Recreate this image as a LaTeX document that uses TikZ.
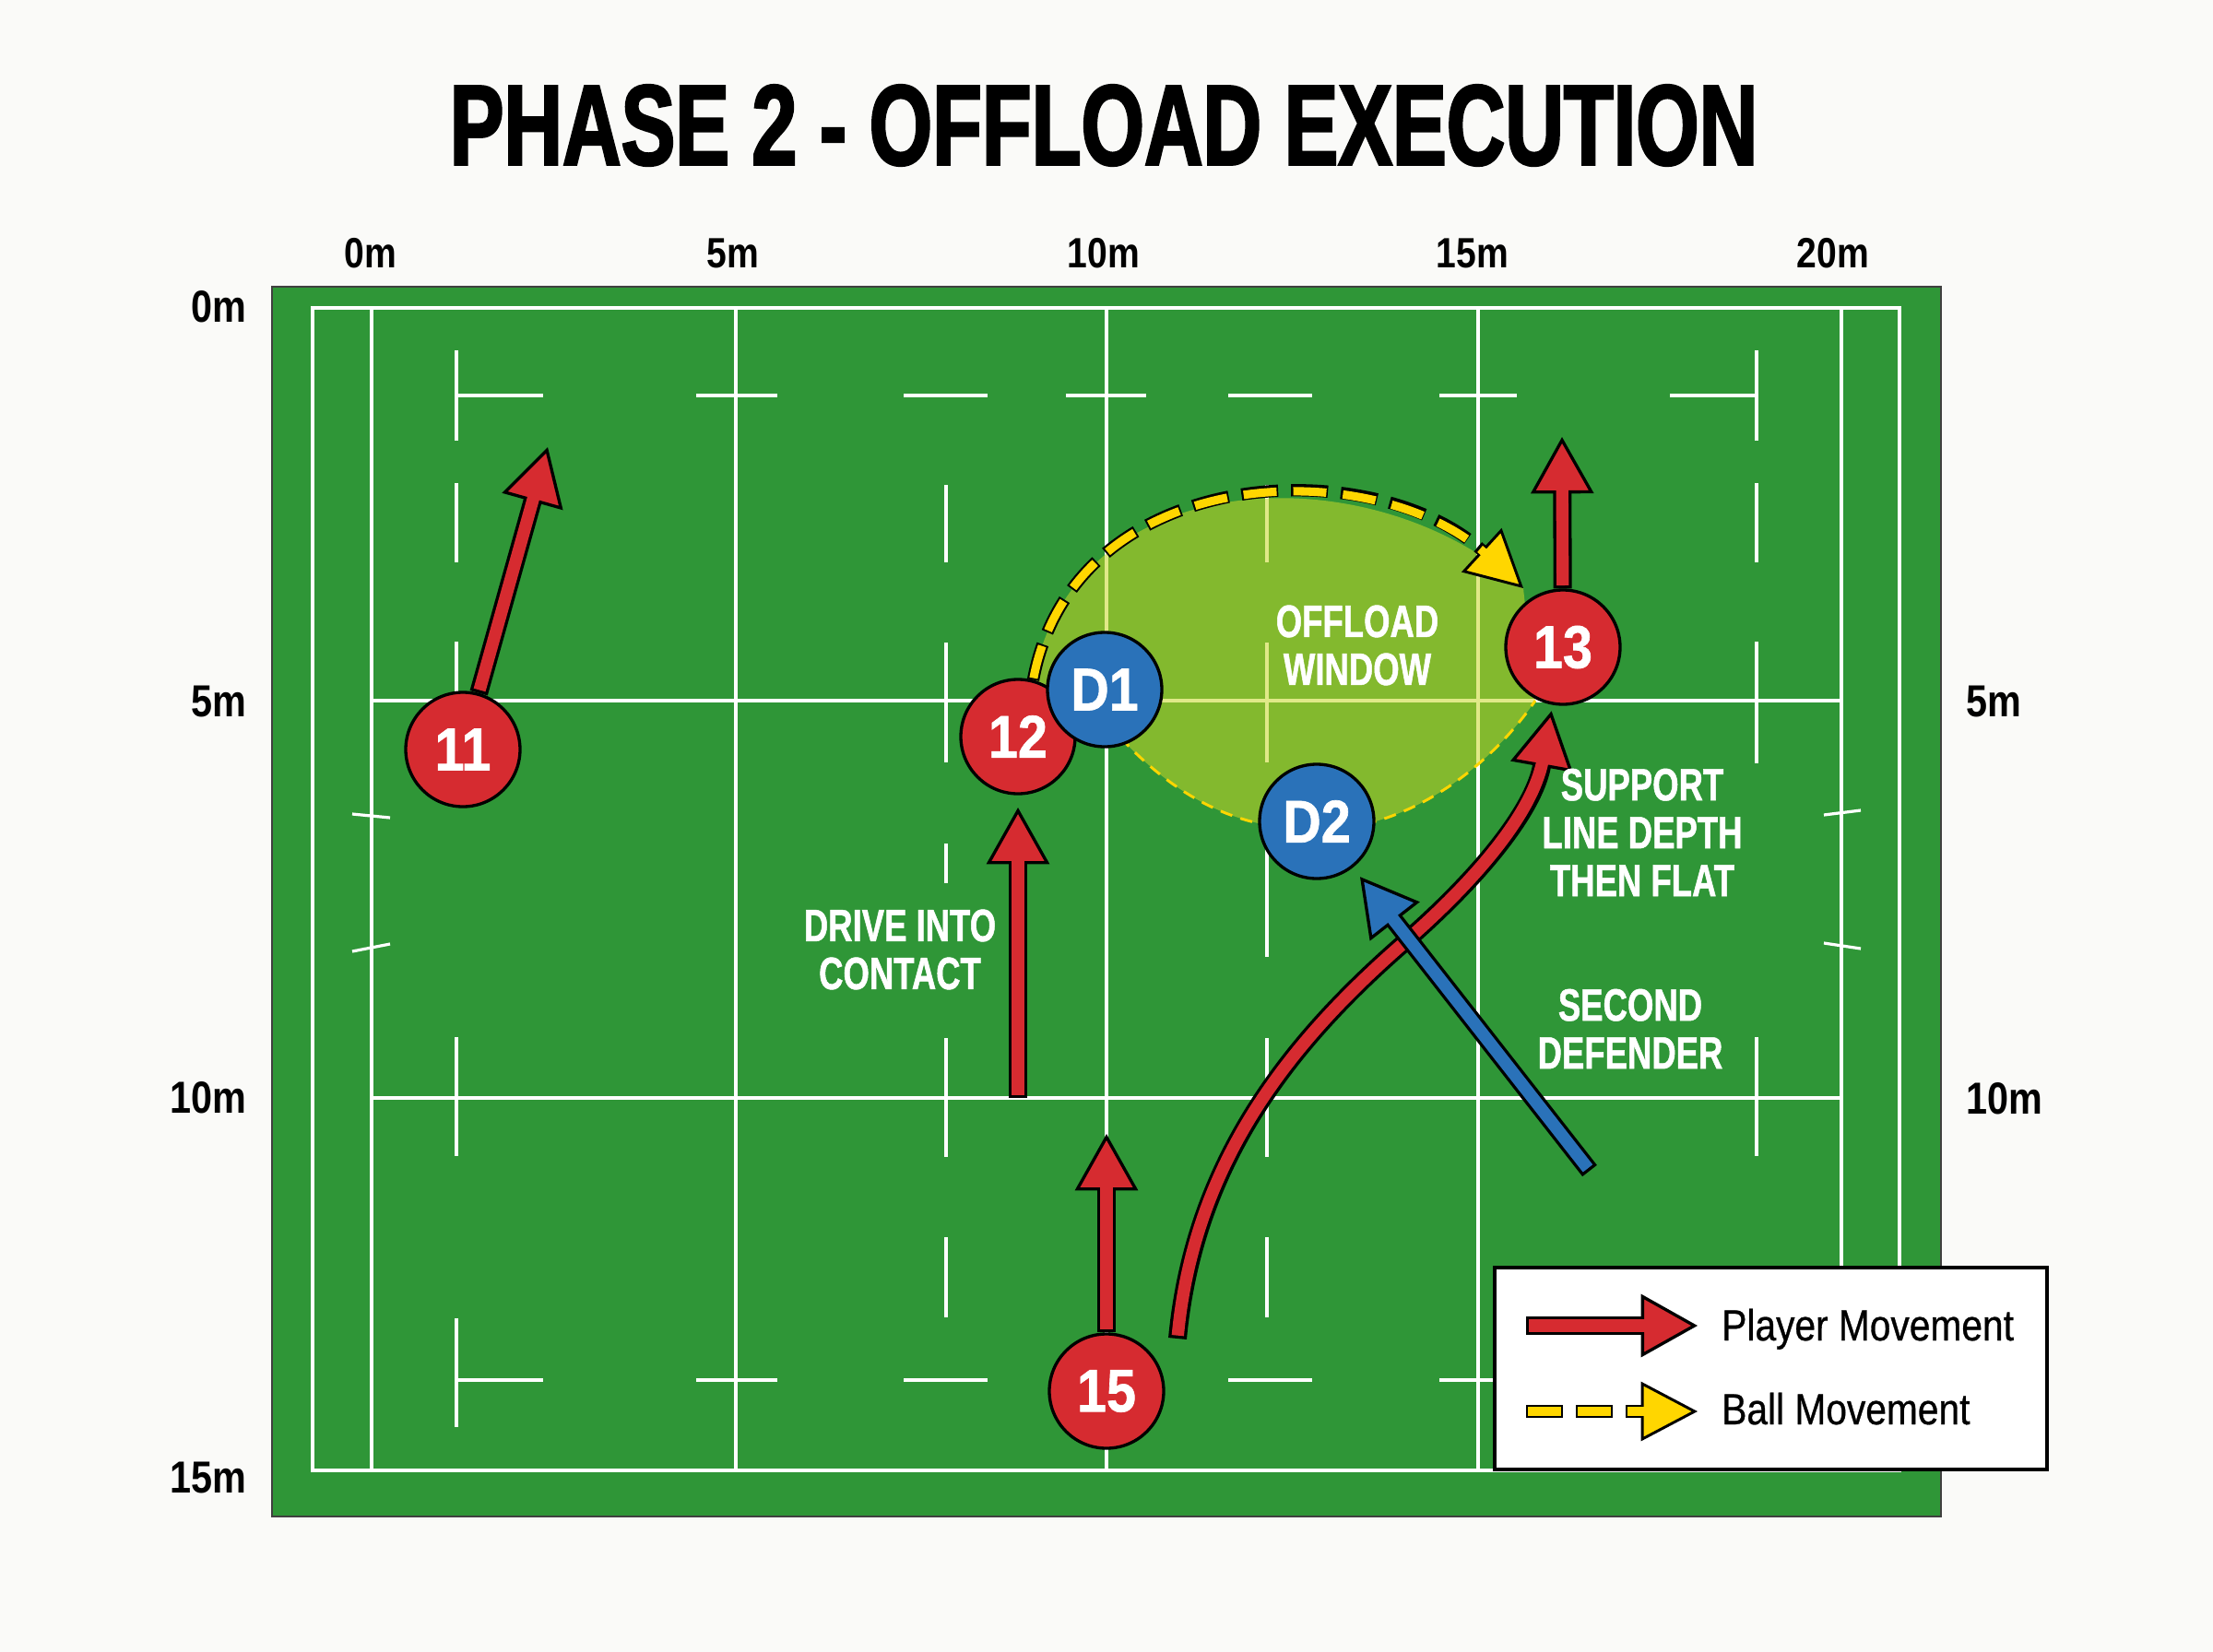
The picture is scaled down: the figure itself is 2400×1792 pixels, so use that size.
\documentclass[tikz,border=0pt]{standalone}
\usepackage{fontspec}
\setmainfont{Liberation Sans}
\newfontfamily\titlefont[FakeStretch=0.71,FakeBold=2]{Liberation Sans}
\newfontfamily\condfont[FakeStretch=0.74,FakeBold=1]{Liberation Sans}
\newfontfamily\numfont[FakeStretch=0.88,FakeBold=1]{Liberation Sans}
\newfontfamily\metrefont[FakeStretch=0.85]{Liberation Sans}
\newfontfamily\keyfont[FakeStretch=0.86,FakeBold=0.6]{Liberation Sans}
\usetikzlibrary{arrows.meta,positioning,backgrounds}
\definecolor{pitch}{HTML}{2F9637}
\definecolor{playerred}{HTML}{D62B30}
\definecolor{defblue}{HTML}{2A72B9}
\definecolor{ballyellow}{HTML}{FFD600}
\definecolor{windowfill}{HTML}{C8D728}
\definecolor{paper}{HTML}{FAFAF8}

\tikzset{
  fieldline/.style={white, line width=2.8pt},
  markline/.style={white, line width=2.4pt},
  player/.style={circle, minimum size=93pt, inner sep=0pt, draw=black, line width=2.5pt,
    fill=playerred, text=white, font=\numfont\bfseries\fontsize{49}{49}\selectfont},
  defender/.style={player, fill=defblue},
  move/.style 2 args={draw=black, line width=15pt,
    -{Triangle[length=46pt,width=51pt,fill=#1,line width'=2.5pt]}, shorten >=#2,
    postaction={draw=#1, line width=10pt, -, shorten >=#2+40pt, shorten <=2.5pt}},
  pmove/.style={move={playerred}{#1}}, pmove/.default=0pt,
  dmove/.style={move={defblue}{#1}}, dmove/.default=0pt,
  ballpass/.style={draw=black, line width=10pt, dash pattern=on 30pt off 10.5pt,
    -{Triangle[length=46pt,width=48pt,fill=ballyellow,line width'=2.2pt]},
    postaction={draw=ballyellow, line width=6.8pt, dash pattern=on 27pt off 13.5pt,
      dash phase=39pt, -, shorten >=40pt}},
  note/.style={text=white, align=center, inner sep=0pt, font=\condfont\bfseries\fontsize{37}{39}\selectfont},
  topmetre/.style={inner sep=0pt, font=\metrefont\bfseries\fontsize{34.5}{34.5}\selectfont},
  sidemetre/.style={inner sep=0pt, font=\metrefont\bfseries\fontsize{36.5}{36.5}\selectfont},
  legendbox/.style={draw=black, line width=3pt, fill=white, minimum width=449pt, minimum height=164pt, inner sep=0pt},
  keytext/.style={inner sep=0pt, font=\keyfont\fontsize{35.5}{35.5}\selectfont}
}

\begin{document}
\begin{tikzpicture}[x=0.75pt,y=0.75pt,yscale=-1,xscale=1]
  \useasboundingbox (0,0) rectangle (2400,1792);

  \begin{scope}[on background layer]
    \fill[paper] (0,0) rectangle (2400,1792);
    % pitch
    \draw[fill=pitch, draw=black!75, line width=1.2pt] (295,311) rectangle (2105,1645);
    \draw[fieldline] (339,334) rectangle (2060,1595);
    \foreach \x in {403,798,1200,1603,1997}
      \draw[fieldline] (\x,334) -- (\x,1595);
    \foreach \y in {760,1191}
      \draw[fieldline] (403,\y) -- (1997,\y);
    % dashed lines
    \foreach \x in {495,1905}
      \foreach \a/\b in {380/478,524/610,696/828,1125/1254,1430/1548}
        \draw[markline] (\x,\a) -- (\x,\b);
    \foreach \x in {1026,1374}
      \foreach \a/\b in {526/610,697/827,1126/1255,1342/1429}
        \draw[markline] (\x,\a) -- (\x,\b);
    \draw[markline] (1026,915) -- (1026,958);
    \draw[markline] (1374,870) -- (1374,1038);
    \foreach \y in {429,1497}
      \foreach \a/\b in {494/589,755/843,980/1071,1156/1243,1332/1423,1561/1645,1811/1905}
        \draw[markline] (\a,\y) -- (\b,\y);
    % ticks on the try lines
    \draw[markline] (382,883) -- (423,887);
    \draw[markline] (382,1032) -- (423,1024);
    \draw[markline] (1978,884) -- (2018,879);
    \draw[markline] (1978,1023) -- (2018,1029);
  \end{scope}

  % title and scale
  \node[font=\titlefont\bfseries\fontsize{93}{93}\selectfont, inner sep=0pt] (title) at (1197,136) {PHASE 2 - OFFLOAD EXECUTION};
  \node[topmetre] (c0) at (402,275) {0m};
  \node[topmetre] (c5) at (795,275) {5m};
  \node[topmetre] (c10) at (1197,275) {10m};
  \node[topmetre] (c15) at (1597,275) {15m};
  \node[topmetre] (c20) at (1988,275) {20m};
  \node[sidemetre, anchor=east] (r0) at (268,333) {0m};
  \node[sidemetre, anchor=east] (r5) at (268,761) {5m};
  \node[sidemetre, anchor=east] (r10) at (268,1191) {10m};
  \node[sidemetre, anchor=east] (r15) at (268,1603) {15m};
  \node[sidemetre, anchor=west] (q5) at (2132,761) {5m};
  \node[sidemetre, anchor=west] (q10) at (2132,1192) {10m};

  % players
  \node[player] (p11) at (502,813) {11};
  \node[player] (p12) at (1104,799) {12};
  \node[defender] (d1) at (1198,748) {D1};
  \node[defender] (d2) at (1428,891) {D2};
  \node[player] (p13) at (1695,702) {13};
  \node[player] (p15) at (1200,1509) {15};

  \coordinate (t11) at (594,485);
  \coordinate (s12) at (1104,1191);
  \coordinate (t13) at (1694,474);
  \coordinate (t15) at (1200,1230);
  \coordinate (s15) at (1277,1452);
  \coordinate (s2) at (1724,1270);
  \coordinate (b13) at (1652,638);

  % offload window
  \begin{scope}[on background layer]
    \fill[windowfill, fill opacity=0.55] (p12.75) .. controls (1165,500) and (1490,490) .. (b13) -- (1665,760)
      .. controls (1610,840) and (1520,900) .. (1430,900) .. controls (1360,900) and (1290,880) .. (1215,800) -- cycle;
    \draw[ballyellow, line width=2.2pt, dash pattern=on 10pt off 7pt] (1215,800) .. controls (1290,880) and (1360,900) .. (1430,900)
      .. controls (1520,900) and (1610,840) .. (1665,760);
  \end{scope}
  \draw[ballpass] (p12.75) .. controls (1165,500) and (1490,490) .. (b13);

  % runs
  \draw[pmove] (p11) -- (t11);
  \draw[pmove=10pt] (s12) -- (p12);
  \draw[pmove] (p15) -- (t15);
  \draw[pmove] (p13) -- (t13);
  \draw[pmove=5pt] (s15) .. controls (1295,1260) and (1400,1130) .. (1520,1025)
    .. controls (1620,938) and (1665,870) .. (p13);
  \draw[dmove=9.5pt] (s2) -- (d2);

  % notes
  \node[note] (window) at (1472,700) {OFFLOAD\\WINDOW};
  \node[note] (support) at (1781,903) {SUPPORT\\LINE DEPTH\\THEN FLAT};
  \node[note] (second) at (1768,1116) {SECOND\\DEFENDER};
  \node[note] (drive) at (976,1030) {DRIVE INTO\\CONTACT};

  % legend
  \node[legendbox] (key) at (1920.5,1484.5) {};
  \coordinate (k1) at (1655,1438);
  \coordinate (k2) at (1841,1438);
  \coordinate (k3) at (1655,1531);
  \coordinate (k4) at (1841,1531);
  \draw[pmove] (k1) -- (k2);
  \draw[ballpass] (k3) -- (k4);
  \node[keytext, anchor=base west] (keyrun) at (1867,1454) {Player Movement};
  \node[keytext, anchor=base west] (keyball) at (1867,1545) {Ball Movement};
\end{tikzpicture}
\end{document}
